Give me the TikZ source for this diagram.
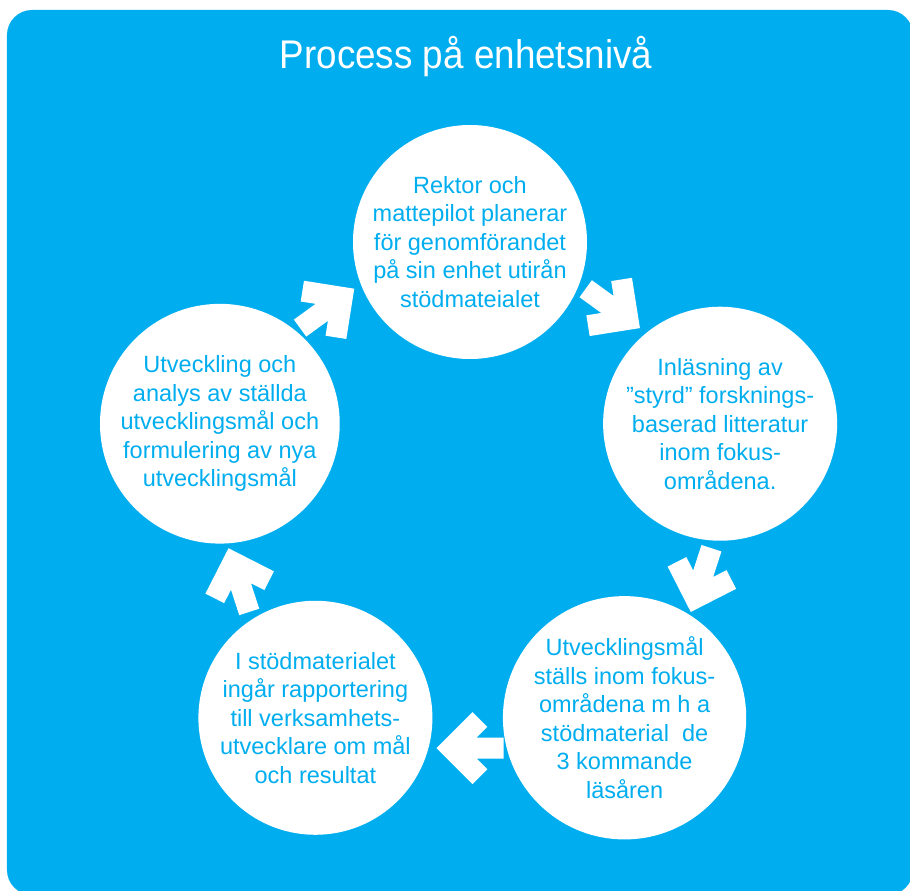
\documentclass[tikz,border=0pt]{standalone}
\usepackage{fontspec}
\setmainfont{Liberation Sans}
\newfontfamily\headfont{Liberation Sans}[FakeStretch=0.92]
\definecolor{procblue}{RGB}{0,174,239}

\begin{document}
\begin{tikzpicture}[x=1pt, y=1pt]
        \tikzstyle{stage}=[fill=white, circle, minimum size=234pt, inner sep=0pt, align=center,
            text=procblue, font=\fontsize{23.5}{28.5}\selectfont]
        % white block arrow, pointing along +x
        \tikzset{turn/.pic={
            \fill[white] (33.5,0) -- (-2.5,36) -- (-17.35,21.15) -- (-6.7,10.5) -- (-33.5,10.5)
                -- (-33.5,-10.5) -- (-6.7,-10.5) -- (-17.35,-21.15) -- (-2.5,-36) -- cycle;
        }}

        \useasboundingbox (-470,-386) rectangle (440,505);
        \fill[procblue, rounded corners=25pt] (-463,-390) rectangle (443,495);

        \node (title) [text=white, font=\headfont\fontsize{40}{48}\selectfont] at (-4,448) {Process på enhetsnivå};

        % the five steps, clockwise from the top
        \node (plan) [stage] at (90:263)
            {Rektor och\\mattepilot planerar\\för genomförandet\\på sin enhet utirån\\stödmateialet};
        \node (read) [stage] at (18:263)
            {Inläsning av\\”styrd” forsknings-\\baserad litteratur\\inom fokus-\\områdena.};
        \node (goals) [stage] at (-54:263)
            {Utvecklingsmål\\ställs inom fokus-\\områdena m h a\\stödmaterial\ \ de\\3 kommande\\läsåren};
        \node (report) [stage] at (-126:263)
            {I stödmaterialet\\ingår rapportering\\till verksamhets-\\utvecklare om mål\\och resultat};
        \node (review) [stage] at (162:263)
            {Utveckling och\\analys av ställda\\utvecklingsmål och\\formulering av nya\\utvecklingsmål};

        \foreach \a in {126,54,-18,-90,-162}
            \pic [rotate=\a-90] at (\a:243) {turn};
\end{tikzpicture}
\end{document}
